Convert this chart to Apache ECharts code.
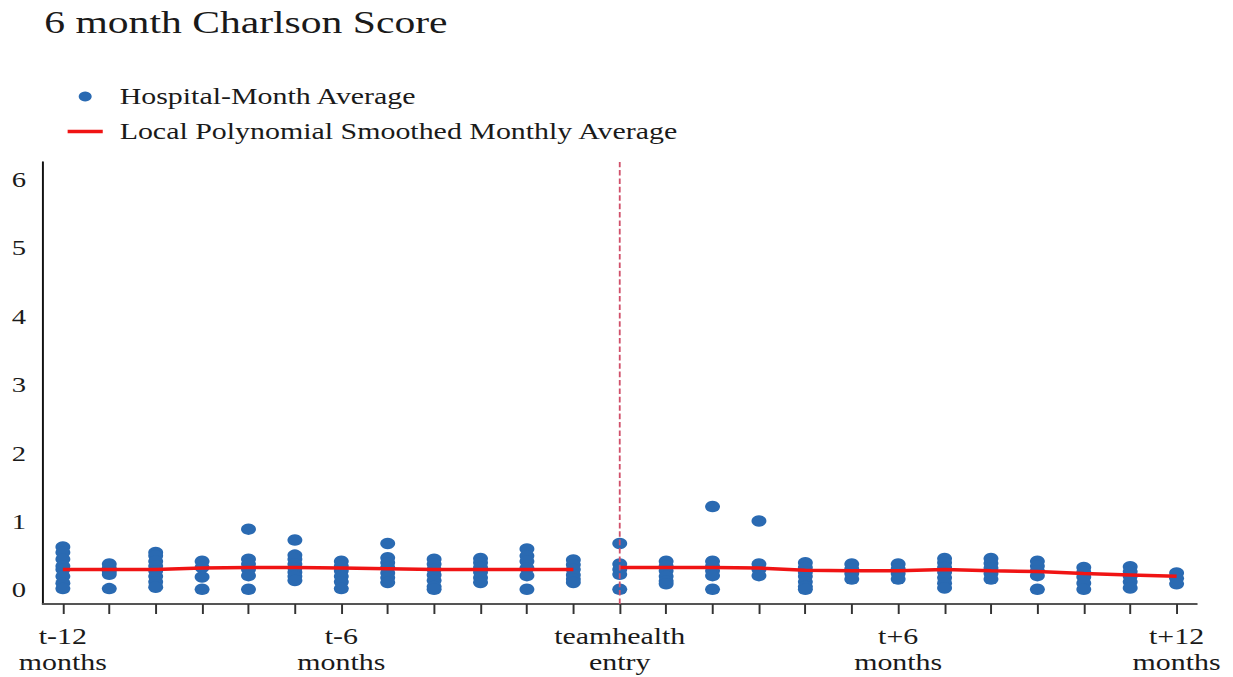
<!DOCTYPE html>
<html>
<head>
<meta charset="utf-8">
<script src="https://cdn.jsdelivr.net/npm/echarts@6/dist/echarts.min.js"></script>
<style>
  html, body { margin: 0; padding: 0; background: #fff; overflow: hidden; }
  /* the original figure is stretched sideways, so draw narrow and widen */
  #main { width: 948px; height: 677px; transform: scaleX(1.3006); transform-origin: 0 0; }
</style>
</head>
<body>
<div id="main"></div>
<script>
var months = [-12, -11, -10, -9, -8, -7, -6, -5, -4, -3, -2, -1, 0, 1, 2, 3, 4, 5, 6, 7, 8, 9, 10, 11, 12]
// hospital-month averages, one list per month
var hospVals = [
  [0.63, 0.55, 0.45, 0.35, 0.3, 0.2, 0.1, 0.02],
  [0.38, 0.32, 0.27, 0.23, 0.02],
  [0.55, 0.5, 0.42, 0.35, 0.28, 0.2, 0.12, 0.04],
  [0.42, 0.33, 0.19, 0.01],
  [0.89, 0.45, 0.38, 0.3, 0.21, 0.01],
  [0.73, 0.51, 0.45, 0.38, 0.32, 0.26, 0.2, 0.14],
  [0.42, 0.35, 0.28, 0.2, 0.12, 0.02],
  [0.68, 0.47, 0.4, 0.33, 0.25, 0.18, 0.11],
  [0.45, 0.38, 0.3, 0.22, 0.14, 0.05, 0.01],
  [0.46, 0.4, 0.33, 0.26, 0.18, 0.11],
  [0.6, 0.5, 0.42, 0.32, 0.21, 0.01],
  [0.44, 0.37, 0.3, 0.22, 0.16, 0.11],
  [0.68, 0.38, 0.3, 0.23, 0.01],
  [0.42, 0.35, 0.28, 0.2, 0.13, 0.09],
  [1.22, 0.42, 0.35, 0.28, 0.21, 0.01],
  [1.01, 0.38, 0.3, 0.21],
  [0.4, 0.33, 0.26, 0.2, 0.12, 0.05, 0.01],
  [0.38, 0.31, 0.24, 0.16],
  [0.38, 0.31, 0.24, 0.16],
  [0.46, 0.4, 0.33, 0.26, 0.18, 0.1, 0.03],
  [0.46, 0.39, 0.32, 0.24, 0.16],
  [0.42, 0.35, 0.28, 0.21, 0.01],
  [0.33, 0.26, 0.19, 0.1, 0.01],
  [0.34, 0.27, 0.2, 0.12, 0.03],
  [0.25, 0.17, 0.09]
]
// smoothed line, before and after entry
var preMonths = [-12, -11, -10, -9, -8, -7, -6, -5, -4, -3, -2, -1]
var preSmooth = [0.30, 0.30, 0.30, 0.32, 0.33, 0.33, 0.32, 0.31, 0.30, 0.30, 0.30, 0.30]
var postMonths = [0, 1, 2, 3, 4, 5, 6, 7, 8, 9, 10, 11, 12]
var postSmooth = [0.33, 0.33, 0.33, 0.32, 0.29, 0.28, 0.28, 0.30, 0.28, 0.27, 0.24, 0.22, 0.20]
var yTicks = [0, 1, 2, 3, 4, 5, 6]
var xLabelAt = [-12, -6, 0, 6, 12]
var xLabelText = ['t-12\nmonths', 't-6\nmonths', 'teamhealth\nentry', 't+6\nmonths', 't+12\nmonths']

var scatterData = []
for (var i = 0; i < months.length; i++) {
  for (var j = 0; j < hospVals[i].length; j++) {
    scatterData.push([months[i], hospVals[i][j]])
  }
}
var preData = preMonths.map(function (m, i) { return [m, preSmooth[i]] })
var postData = postMonths.map(function (m, i) { return [m, postSmooth[i]] })

var font = '"Liberation Serif", "Times New Roman", serif'
var red = '#f01414'
var chart = echarts.init(document.getElementById('main'), null, { renderer: 'svg' })
var option = {
  backgroundColor: '#fff',
  animation: false,
  title: {
    text: '6 month Charlson Score',
    left: 34, top: 6, padding: 0,
    textStyle: { fontFamily: font, fontSize: 32, fontWeight: 'normal', color: '#1a1a1a' }
  },
  legend: {
    orient: 'vertical',
    left: 52, top: 85, padding: 0,
    itemWidth: 27, itemHeight: 10, itemGap: 12,
    textStyle: { fontFamily: font, fontSize: 23, color: '#1a1a1a', padding: [0, 0, 0, 8] },
    data: [
      { name: 'Hospital-Month Average', icon: 'circle' },
      { name: 'Local Polynomial Smoothed Monthly Average', icon: 'path://M0,0L27,0L27,3.5L0,3.5Z' }
    ]
  },
  grid: { left: 33, right: 28, top: 162, bottom: 73 },
  xAxis: {
    type: 'value',
    min: -12.43, max: 12.43,
    splitLine: { show: false },
    axisLine: { show: true, onZero: false, lineStyle: { color: '#555', width: 2 } },
    axisTick: { show: true, length: 10, lineStyle: { color: '#333', width: 1.5 }, customValues: months },
    axisLabel: {
      customValues: xLabelAt,
      margin: 19,
      fontFamily: font, fontSize: 23, color: '#1a1a1a', lineHeight: 26,
      formatter: function (v) {
        var k = xLabelAt.indexOf(Math.round(v))
        return k >= 0 ? xLabelText[k] : ''
      }
    }
  },
  yAxis: {
    type: 'value',
    min: -0.205, max: 6.26,
    splitLine: { show: false },
    axisLine: { show: true, onZero: false, lineStyle: { color: '#111', width: 1.5 } },
    axisTick: { show: false },
    axisLabel: {
      customValues: yTicks,
      margin: 13,
      fontFamily: font, fontSize: 22, color: '#1a1a1a'
    }
  },
  series: [
    {
      name: 'Hospital-Month Average',
      type: 'scatter',
      symbolSize: 11.5,
      itemStyle: { color: '#2a6ab2', opacity: 1 },
      data: scatterData,
      markLine: {
        silent: true,
        symbol: 'none',
        label: { show: false },
        lineStyle: { color: '#d0506a', type: 'dashed', width: 1.4 },
        emphasis: { disabled: true },
        data: [{ xAxis: 0 }]
      },
      z: 2
    },
    {
      name: 'Local Polynomial Smoothed Monthly Average',
      type: 'line',
      symbol: 'none',
      lineStyle: { color: red, width: 3.5 },
      itemStyle: { color: red },
      data: preData,
      z: 3
    },
    {
      name: 'Local Polynomial Smoothed Monthly Average',
      type: 'line',
      symbol: 'none',
      lineStyle: { color: red, width: 3.5 },
      itemStyle: { color: red },
      data: postData,
      z: 3
    }
  ]
}
chart.setOption(option)
</script>
</body>
</html>
